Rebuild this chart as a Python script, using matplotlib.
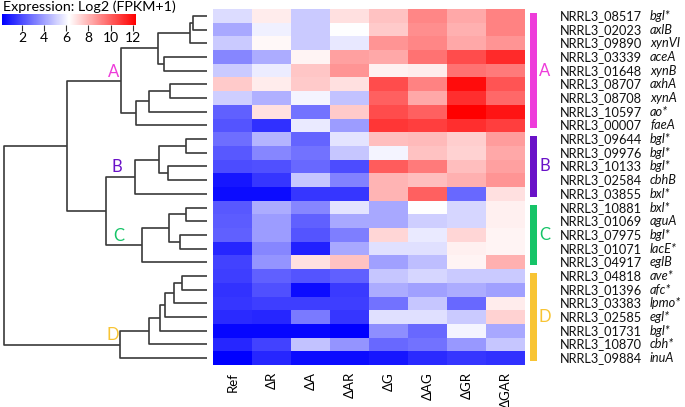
import numpy as np
import matplotlib
matplotlib.use("Agg")
import matplotlib.pyplot as plt
from matplotlib.patches import Rectangle
from matplotlib.cm import ScalarMappable
from matplotlib.colors import Normalize

plt.rcParams['font.family'] = ['Lato', 'DejaVu Sans']

# ---------------- data ----------------
conditions = ["Ref", "ΔR", "ΔA", "ΔAR", "ΔG", "ΔAG", "ΔGR", "ΔGAR"]
gene_ids = ["NRRL3_08517", "NRRL3_02023", "NRRL3_09890", "NRRL3_03339", "NRRL3_01648",
            "NRRL3_08707", "NRRL3_08708", "NRRL3_10597", "NRRL3_00007",
            "NRRL3_09644", "NRRL3_09976", "NRRL3_10133", "NRRL3_02584", "NRRL3_03855",
            "NRRL3_10881", "NRRL3_01069", "NRRL3_07975", "NRRL3_01071", "NRRL3_04917",
            "NRRL3_04818", "NRRL3_01396", "NRRL3_03383", "NRRL3_02585", "NRRL3_01731",
            "NRRL3_10870", "NRRL3_09884"]
gene_names = ["bgl*", "axlB", "xynVI", "aceA", "xynB", "axhA", "xynA", "ao*", "faeA",
              "bgl*", "bgl*", "bgl*", "cbhB", "bxl*",
              "bxl*", "aguA", "bgl*", "lacE*", "eglB",
              "ave*", "afc*", "lpmo*", "egl*", "bgl*", "cbh*", "inuA"]

ref   = [5.4, 4.2, 5.0, 3.4, 5.0, 7.5, 5.1, 2.5, 2.2, 2.8, 2.3, 2.0, 0.75, 0.5, 2.3, 2.4, 2.5, 1.1, 1.8, 1.7, 1.4, 1.5, 1.2, 0.35, 1.1, 0.2]
dR    = [6.7, 5.9, 6.4, 4.3, 5.8, 6.7, 4.4, 7.0, 1.35, 4.5, 3.4, 2.1, 1.5, 0.5, 4.3, 3.9, 3.9, 3.4, 3.7, 2.5, 2.1, 1.7, 1.1, 0.35, 1.8, 1.1]
dA    = [5.0, 5.0, 5.0, 6.5, 7.6, 7.5, 6.0, 2.9, 5.75, 2.6, 2.9, 2.7, 4.9, 1.5, 3.4, 2.5, 2.2, 1.0, 7.0, 2.2, 0.5, 1.7, 3.1, 0.35, 4.8, 0.5]
dAR   = [7.0, 6.25, 5.7, 8.5, 8.8, 7.0, 4.8, 7.5, 3.9, 5.6, 4.9, 2.0, 3.3, 1.5, 5.6, 4.2, 3.2, 4.2, 7.7, 2.5, 1.6, 1.7, 1.5, 0.1, 3.7, 0.5]
dG    = [7.7, 7.5, 8.8, 8.3, 6.6, 10.5, 10.0, 10.5, 11.0, 7.8, 6.0, 10.1, 8.0, 8.0, 4.2, 4.2, 7.2, 5.5, 4.0, 4.9, 4.3, 2.9, 5.5, 3.6, 2.7, 0.75]
dAG   = [9.1, 8.9, 9.1, 9.6, 6.7, 9.2, 8.3, 10.0, 10.8, 7.9, 7.7, 9.4, 7.8, 10.0, 6.25, 5.1, 5.75, 5.5, 4.7, 5.3, 4.0, 4.9, 5.5, 2.7, 2.9, 1.2]
dGR   = [8.3, 8.1, 8.3, 10.5, 9.6, 12.0, 11.2, 12.3, 11.2, 7.4, 7.3, 7.8, 8.1, 2.7, 5.3, 5.3, 7.2, 6.6, 6.5, 5.0, 4.3, 2.7, 5.0, 6.0, 3.8, 1.5]
dGAR  = [9.2, 9.2, 8.8, 11.3, 9.4, 10.3, 9.8, 11.8, 10.8, 8.6, 8.3, 8.5, 8.8, 7.0, 6.6, 6.6, 6.5, 6.5, 8.1, 5.0, 4.0, 6.7, 7.3, 4.2, 4.9, 1.35]

# dendrogram merges: (child a, child b, height); leaves 0..25, new nodes from 26
merges = [(0, 1, 14.3), (26, 2, 17.0), (3, 4, 43.0), (27, 28, 48.7),
          (5, 6, 37.0), (30, 7, 57.7), (31, 8, 71.0), (29, 32, 86.5),
          (9, 10, 21.3), (11, 12, 38.7), (34, 35, 48.3), (36, 13, 72.7),
          (14, 15, 21.3), (16, 17, 27.0), (38, 39, 38.3), (40, 18, 65.7),
          (37, 41, 101.7), (33, 42, 140.3),
          (19, 20, 25.3), (44, 21, 33.0), (45, 22, 42.3), (46, 23, 47.0),
          (47, 24, 58.7), (48, 25, 87.7), (43, 49, 203.7)]

clusters = ["A", "B", "C", "D"]
cluster_sizes = [9, 5, 5, 7]
cluster_colors = ["#EE3CDA", "#6A12C8", "#16C468", "#F8C434"]
cluster_label_h = [94, 90, 89, 94.5]
cluster_nodes = [33, 37, 41, 49]

cbar_ticks = [2, 4, 6, 8, 10, 12]
vmin, vmax = 0.2, 12.3

data = np.array([ref, dR, dA, dAR, dG, dAG, dGR, dGAR]).T
nrows = data.shape[0]

# ---------------- layout ----------------
W, H = 685, 407
fig = plt.figure(figsize=(W / 100, H / 100), dpi=100)
top_px, bot_px = 9, 365
bottom = 1 - bot_px / H
height = (bot_px - top_px) / H

# heatmap
ax_h = fig.add_axes([213 / W, bottom, 312 / W, height])
ax_h.pcolormesh(np.arange(data.shape[1] + 1), np.arange(nrows + 1), data,
                cmap="bwr", vmin=vmin, vmax=vmax, shading="flat")
ax_h.set_xlim(0, data.shape[1])
ax_h.set_ylim(nrows, 0)
ax_h.set_xticks(np.arange(data.shape[1]) + 0.5)
ax_h.set_xticklabels(conditions, rotation=90, fontsize=9.5)
ax_h.tick_params(axis="x", length=0, pad=5)
ax_h.set_yticks([])
for s in ax_h.spines.values():
    s.set_visible(False)

# dendrogram
ax_d = fig.add_axes([3 / W, bottom, 204 / W, height])
pos = {i: (i + 0.5, 0.0) for i in range(nrows)}
line_kw = dict(color="#3a3a3a", lw=1.2, solid_capstyle="butt")
for k, (a, b, h) in enumerate(merges):
    ya, ha_ = pos[a]
    yb, hb = pos[b]
    ax_d.plot([ha_, h, h, hb], [ya, ya, yb, yb], **line_kw)
    pos[nrows + k] = ((ya + yb) / 2, h)
ax_d.set_xlim(merges[-1][2] + 1, 0)
ax_d.set_ylim(nrows, 0)
ax_d.axis("off")
for name, col, lh, node in zip(clusters, cluster_colors, cluster_label_h, cluster_nodes):
    y, h = pos[node]
    ax_d.text(lh, y - 0.1, name, color=col, fontsize=12, ha="center", va="bottom")

# right annotations
ax_r = fig.add_axes([525 / W, bottom, 160 / W, height])
ax_r.set_xlim(0, 160)
ax_r.set_ylim(nrows, 0)
ax_r.axis("off")
start = 0
for name, col, n in zip(clusters, cluster_colors, cluster_sizes):
    ax_r.add_patch(Rectangle((5, start + 0.3), 7, n - 0.6, color=col, lw=0))
    ax_r.text(20, start + n / 2, name, color=col, fontsize=12, ha="center", va="center")
    start += n
for i, (gid, gn) in enumerate(zip(gene_ids, gene_names)):
    ax_r.text(35, i + 0.5, gid, fontsize=9.2, ha="left", va="center", color="#111111")
    ax_r.text(125, i + 0.5, gn, fontsize=9.2, ha="left", va="center", style="italic", color="#111111")

# colorbar
ax_c = fig.add_axes([2 / W, 1 - 25 / H, 134 / W, 11 / H])
sm = ScalarMappable(norm=Normalize(vmin, vmax), cmap="bwr")
cb = fig.colorbar(sm, cax=ax_c, orientation="horizontal", ticks=cbar_ticks)
cb.outline.set_visible(False)
ax_c.tick_params(length=4, width=0.8, labelsize=10, pad=1, color="#333333")
fig.text(3 / W, 1 - 7 / H, "Expression: Log2 (FPKM+1)", fontsize=10.3, ha="left", va="center")

fig.savefig("out.png", dpi=100)
